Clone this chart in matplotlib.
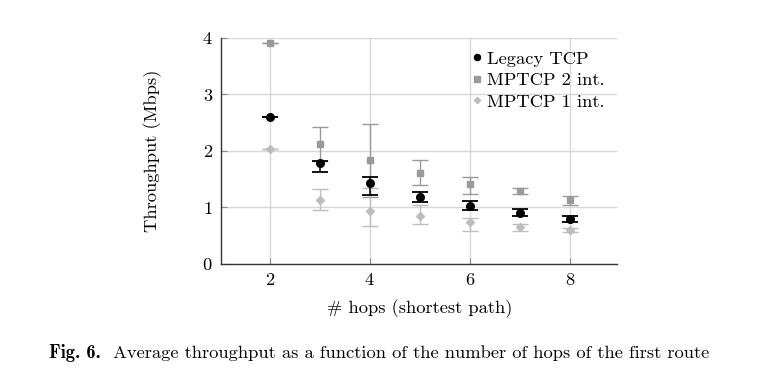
import numpy as np
import matplotlib.pyplot as plt

# -------- DATA ----------------------------
hops = [2, 3, 4, 5, 6, 7, 8]

legacy = [2.60, 1.79, 1.44, 1.19, 1.02, 0.91, 0.79]
legacy_lo = [2.60, 1.62, 1.22, 1.09, 0.95, 0.84, 0.75]
legacy_hi = [2.60, 1.82, 1.54, 1.28, 1.11, 0.98, 0.84]

mptcp2 = [3.90, 2.12, 1.83, 1.60, 1.41, 1.29, 1.14]
mptcp2_lo = [3.90, 1.82, 1.19, 1.40, 1.23, 1.23, 1.05]
mptcp2_hi = [3.90, 2.43, 2.47, 1.83, 1.54, 1.35, 1.21]

mptcp1 = [2.04, 1.14, 0.94, 0.85, 0.75, 0.65, 0.60]
mptcp1_lo = [2.04, 0.95, 0.67, 0.71, 0.58, 0.58, 0.57]
mptcp1_hi = [2.04, 1.32, 1.35, 1.04, 0.81, 0.71, 0.63]

xticks = [2, 4, 6, 8]
yticks = [0, 1, 2, 3, 4]

fs = 13.3
plt.rcParams['font.family'] = ['cmr10', 'DejaVu Serif']
plt.rcParams['axes.formatter.use_mathtext'] = True
plt.rcParams['font.size'] = fs

# -------- PLOTTING -------------------------------
fig = plt.figure(figsize=(7.7, 3.9), dpi=100)
ax = fig.add_axes([0.2874, 0.3231, 0.8017 - 0.2874, 0.9033 - 0.3231])


def err(v, lo, hi):
    v = np.array(v)
    return [v - np.array(lo), np.array(hi) - v]


ax.errorbar(hops, mptcp2, yerr=err(mptcp2, mptcp2_lo, mptcp2_hi), fmt='s',
            color='#9a9a9a', ms=5, capsize=5.5, elinewidth=1, capthick=1,
            label='MPTCP 2 int.', zorder=3)
ax.errorbar(hops, mptcp1, yerr=err(mptcp1, mptcp1_lo, mptcp1_hi), fmt='D',
            color='#bdbdbd', ms=4, capsize=5.5, elinewidth=1, capthick=1,
            label='MPTCP 1 int.', zorder=3)
ax.errorbar(hops, legacy, yerr=err(legacy, legacy_lo, legacy_hi), fmt='o',
            color='black', ms=5.5, capsize=5.5, elinewidth=1.1, capthick=1.3,
            label='Legacy TCP', zorder=4)

ax.set_xlim(1.03, 8.95)
ax.set_ylim(0, 4)
ax.set_xticks(xticks)
ax.set_yticks(yticks)
ax.grid(True, color='#d8d8d8', linewidth=1)
ax.set_axisbelow(True)
for s in ['top', 'right']:
    ax.spines[s].set_visible(False)
for s in ['left', 'bottom']:
    ax.spines[s].set_color('#333333')
    ax.spines[s].set_linewidth(1)
ax.tick_params(direction='in', length=4, color='#888888', labelsize=fs, pad=6)

ax.set_xlabel('# hops (shortest path)', fontsize=fs, labelpad=8)
ax.set_ylabel('Throughput (Mbps)', fontsize=fs, labelpad=29)

h, l = ax.get_legend_handles_labels()
order = [2, 0, 1]
ax.legend([h[i][0] for i in order], [l[i] for i in order], loc='upper right',
          bbox_to_anchor=(1.0, 1.0), frameon=False, fontsize=fs,
          handlelength=0.5, handletextpad=0.3, labelspacing=0.3, borderpad=0.2,
          markerscale=0.8)

fig.text(49 / 770, 1 - 358 / 390, 'Fig. 6.', fontsize=fs, family='cmb10',
         va='baseline')
fig.text(112.7 / 770, 1 - 358 / 390,
         'Average throughput as a function of the number of hops of the first route',
         fontsize=fs, va='baseline')

fig.savefig('out.png', dpi=100)
